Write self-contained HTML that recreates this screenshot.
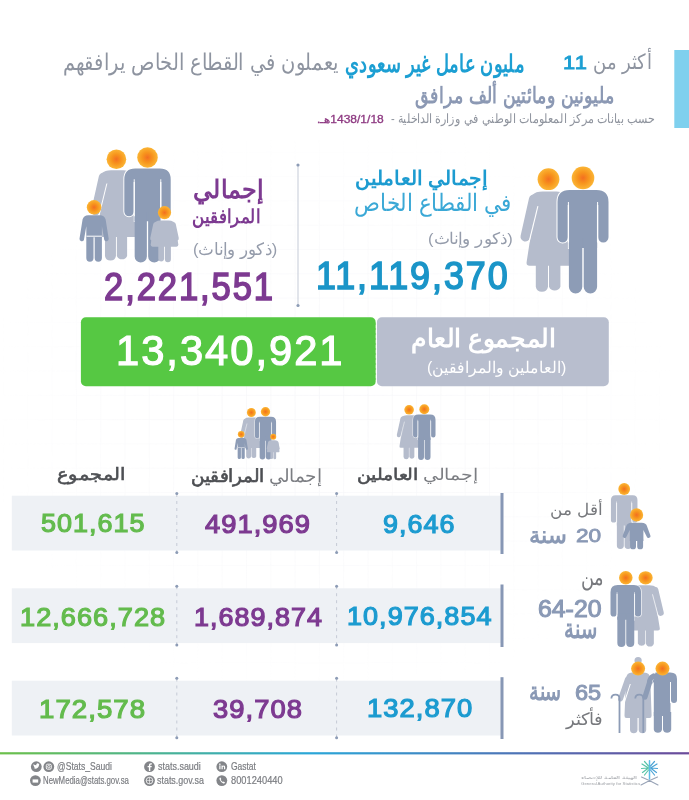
<!DOCTYPE html>
<html lang="ar"><head><meta charset="utf-8"><title>Infographic</title>
<style>
html,body{margin:0;padding:0;background:#fff;}
body{width:689px;height:800px;position:relative;overflow:hidden;font-family:"Liberation Sans",sans-serif;}
.bg{position:absolute;left:0;top:0;}
.t{position:absolute;white-space:nowrap;line-height:1;transform-origin:0 0;unicode-bidi:isolate;}
.lt{font-weight:400;color:#7b7d82;}
.md{-webkit-text-stroke:0.6px currentColor;}
</style></head>
<body>
<svg class="bg" width="689" height="800" viewBox="0 0 689 800">
<defs>
  <radialGradient id="hd" cx="0.5" cy="0.5" r="0.5">
    <stop offset="0" stop-color="#f36f21"/>
    <stop offset="0.5" stop-color="#f7951d"/>
    <stop offset="1" stop-color="#fbb535"/>
  </radialGradient>
  <linearGradient id="fl" x1="0" y1="0" x2="1" y2="0">
    <stop offset="0" stop-color="#6cc04a"/>
    <stop offset="0.45" stop-color="#2aa6d8"/>
    <stop offset="1" stop-color="#6b4a9a"/>
  </linearGradient>
  <pattern id="grid" width="24.3" height="24.3" patternUnits="userSpaceOnUse" x="3" y="6">
    <path d="M0 0H24.3M0 0V24.3" stroke="#f1f2f6" stroke-width="1" fill="none"/>
  </pattern>
  <radialGradient id="gridfade" cx="0.48" cy="0.45" r="0.5">
    <stop offset="0" stop-color="#fff" stop-opacity="1"/>
    <stop offset="0.6" stop-color="#fff" stop-opacity="0.5"/>
    <stop offset="1" stop-color="#fff" stop-opacity="0"/>
  </radialGradient>
  <mask id="gm"><rect x="0" y="140" width="689" height="600" fill="url(#gridfade)"/></mask>
  <!-- man: head center at 0,0 -->
  <g id="man">
    <path fill="#8d9cb6" stroke="#fff" stroke-width="2" paint-order="stroke" d="M-13.5,12.1H13.5Q25.5,12.1 25.5,24.1V59.4A5.2,5.2 0 0 1 15.1,59.4V24H14.1V70H-14.1V24H-15.1V59.4A5.2,5.2 0 0 1 -25.5,59.4V24.1Q-25.5,12.1 -13.5,12.1Z"/>
    <path fill="#8d9cb6" d="M-14.1,60V108.8A6.7,6.7 0 0 0 -0.7,108.8V60Z M0.7,60V108.8A6.7,6.7 0 0 0 14.1,108.8V60Z"/>
    <path stroke="#fff" stroke-width="1.3" d="M-14.6,27V64.6M14.6,27V64.6" fill="none"/>
    <circle r="11.3" fill="url(#hd)"/>
  </g>
  <g id="woman">
    <path fill="#b5bccc" d="M-6,12.3H8Q17,12.3 18.5,22L23.5,83Q23.8,86.5 20.5,86.5H-19Q-22.3,86.5 -21.9,83L-13.5,28L-19.8,26Q-19.5,12.3 -6,12.3Z"/>
    <path stroke="#b5bccc" stroke-width="9.6" stroke-linecap="round" d="M-14.8,20L-23.2,57.6"/>
    <path stroke="#fff" stroke-width="1.1" d="M-10.6,27L-19.4,63" fill="none"/>
    <path fill="#b5bccc" d="M-12.7,80V107.5A6.2,6.2 0 0 0 -0.5,107.5V80Z M0.5,80V107.5A6.2,6.2 0 0 0 11.9,107.5V80Z"/>
    <circle r="10.9" fill="url(#hd)"/>
  </g>
  <g id="boy">
    <path fill="#8d9cb6" d="M-6,7.9H6Q10,7.9 11.5,12L14.6,31.5A2.3,2.3 0 0 1 10.2,32.6L7.8,19V30H-7.8V19L-10.2,32.6A2.3,2.3 0 0 1 -14.6,31.5L-11.5,12Q-10,7.9 -6,7.9Z"/>
    <path fill="#8d9cb6" d="M-7.8,28.5V50.8A3.6,3.6 0 0 0 -0.6,50.8V28.5Z M0.6,28.5V50.8A3.6,3.6 0 0 0 7.8,50.8V28.5Z"/>
    <path stroke="#fff" stroke-width="1" d="M-7.8,28.9H7.8" fill="none"/>
    <circle r="7.3" fill="url(#hd)"/>
  </g>
  <g id="girl">
    <path fill="#b5bccc" d="M-4,7.9H4Q10,7.9 11,13L13.8,32Q14,34.1 12,34.1H-12Q-14,34.1 -13.8,32L-11,13Q-10,7.9 -4,7.9Z"/>
    <path stroke="#b5bccc" stroke-width="4.6" stroke-linecap="round" d="M-9,12L-12,26M9,12L12,26"/>
    <path fill="#b5bccc" d="M-6.2,30V46.6A3,3 0 0 0 -0.4,46.6V30Z M0.4,30V46.6A3,3 0 0 0 6.4,46.6V30Z"/>
    <circle r="6.6" fill="url(#hd)"/>
  </g>
  <g id="workers">
    <use href="#woman" x="-34.5" y="1.3"/>
    <use href="#man"/>
  </g>
  <g id="family">
    <use href="#woman" transform="translate(-31.1,1.7) scale(0.9)"/>
    <use href="#man" transform="scale(0.91)"/>
    <use href="#boy" transform="translate(-53.4,49.8)"/>
    <use href="#girl" transform="translate(17,55.1)"/>
  </g>
</defs>
<rect width="689" height="800" fill="#fff"/>
<rect x="0" y="140" width="689" height="600" fill="url(#grid)" mask="url(#gm)"/>
<!-- right accent bar -->
<rect x="674.3" y="50" width="14.7" height="78" fill="#7fd0ee"/>
<!-- icons top -->
<use href="#workers" transform="translate(583,177.9)"/>
<use href="#family" transform="translate(147.5,157.5)"/>
<!-- dotted vertical divider -->
<path d="M298,165V305" stroke="#c5cbd7" stroke-width="1"/>
<circle cx="298" cy="165" r="1.6" fill="#8d9cb6"/>
<circle cx="298" cy="305.5" r="1.6" fill="#8d9cb6"/>
<!-- totals boxes -->
<rect x="80.9" y="317.2" width="294.9" height="69.1" rx="5" fill="#56c843"/>
<rect x="376.9" y="317.2" width="231.9" height="69.1" rx="5" fill="#b8bece"/>
<path d="M376.3,320V384" stroke="#fff" stroke-width="1" stroke-dasharray="3,2"/>
<!-- header icons -->
<use href="#workers" transform="translate(424.3,409.2) scale(0.44)"/>
<use href="#family" transform="translate(265.5,411.7) scale(0.455)"/>
<!-- rows -->
<g fill="#eef1f5">
  <rect x="11.8" y="495.7" width="489.2" height="54.8"/>
  <rect x="11.8" y="588.3" width="489.2" height="54.8"/>
  <rect x="11.8" y="680.7" width="489.2" height="54.8"/>
</g>
<g fill="#8797b5">
  <rect x="500.5" y="493" width="3" height="61"/>
  <rect x="500.5" y="584.5" width="3" height="62.5"/>
  <rect x="500.5" y="677.2" width="3" height="61.8"/>
</g>
<g stroke="#c5cad6" stroke-width="1" stroke-dasharray="3,4">
  <path d="M176.8,494V552.6M336.6,494V552.6"/>
  <path d="M176.8,586.2V645M336.6,586.2V645"/>
  <path d="M176.8,678.5V737.5M336.6,678.5V737.5"/>
</g>
<g fill="#8d9cb6">
  <circle cx="176.8" cy="493.6" r="1.5"/><circle cx="176.8" cy="552.6" r="1.5"/>
  <circle cx="336.6" cy="493.6" r="1.5"/><circle cx="336.6" cy="552.6" r="1.5"/>
  <circle cx="176.8" cy="586.2" r="1.5"/><circle cx="176.8" cy="645" r="1.5"/>
  <circle cx="336.6" cy="586.2" r="1.5"/><circle cx="336.6" cy="645" r="1.5"/>
  <circle cx="176.8" cy="678.2" r="1.5"/><circle cx="176.8" cy="737.8" r="1.5"/>
  <circle cx="336.6" cy="678.2" r="1.5"/><circle cx="336.6" cy="737.8" r="1.5"/>
</g>
<!-- row icons -->
<g transform="translate(624.2,489) scale(0.52)">
  <g>
    <path fill="#b5bccc" d="M-16.5,12.1H16.5Q25.5,12.1 25.5,21.1V59.4A5.2,5.2 0 0 1 15.1,59.4V24H14.1V70H-14.1V24H-15.1V59.4A5.2,5.2 0 0 1 -25.5,59.4V21.1Q-25.5,12.1 -16.5,12.1Z"/>
    <path fill="#b5bccc" d="M-14.1,60V108.8A6.7,6.7 0 0 0 -0.7,108.8V60Z M0.7,60V108.8A6.7,6.7 0 0 0 14.1,108.8V60Z"/>
    <path stroke="#fff" stroke-width="1.3" d="M-14.6,27V64.6M14.6,27V64.6" fill="none"/>
    <circle r="11.3" fill="url(#hd)"/>
  </g>
</g>
<g transform="translate(636.6,514.9)">
  <path fill="#8d9cb6" d="M-5,7.9H5Q9.5,7.9 10.5,11.5L13.8,20.5A1.9,1.9 0 0 1 10.2,21.8L6.8,15V26H-6.8V15L-10.2,21.8A1.9,1.9 0 0 1 -13.8,20.5L-10.5,11.5Q-9.5,7.9 -5,7.9Z"/>
  <path fill="#8d9cb6" d="M-6.5,24V31.5A2.95,2.95 0 0 0 -0.6,31.5V24Z M0.6,24V31.5A2.95,2.95 0 0 0 6.5,31.5V24Z"/>
  <circle r="6.6" fill="url(#hd)"/>
</g>
<use href="#woman" transform="translate(645.6,577.8) scale(-0.65,0.61)"/>
<use href="#man" transform="translate(625.8,577.8) scale(-0.6,0.6)"/>
<!-- elderly -->
<g fill="#b5bccc">
  <circle cx="638.1" cy="660.5" r="3.6"/>
  <path d="M632,672.6H644Q650,672.6 650.3,679L651.6,715.5Q651.7,718 649.5,718H626.5Q624.3,718 624.5,715.5L626,679Q626.5,672.6 632,672.6Z"/>
  <path d="M630,716V730A3.8,3.8 0 0 0 637.5,730V716Z M638.7,716V730A3.8,3.8 0 0 0 646.2,730V716Z"/>
  <path d="M627.5,679L620.5,699" stroke="#b5bccc" stroke-width="5" stroke-linecap="round"/>
</g>
<path d="M630.3,684L624.5,702" stroke="#fff" stroke-width="1"/>
<circle cx="638.1" cy="668.6" r="7" fill="url(#hd)"/>
<path d="M619.5,733V698.8Q619.5,694.7 615.5,694.7Q611.4,694.7 611.4,698.5" stroke="#8d9cb6" stroke-width="1.8" fill="none"/>
<g fill="#8d9cb6">
  <path d="M655.5,672.6H670.5Q677,672.6 677,679V700A3,3 0 0 1 671,700V682H670.5V716H653.8V682L652,684Z"/>
  <path d="M653.8,712V729.5A4.2,4.2 0 0 0 662,729.5V712Z M663,712V729.5A4.2,4.2 0 0 0 671.2,729.5V712Z"/>
  <path d="M653.5,676Q649.6,678 649.4,683L645,697" stroke="#8d9cb6" stroke-width="5.2" stroke-linecap="round" fill="none"/>
</g>
<path d="M670.5,682V703" stroke="#fff" stroke-width="1"/>
<circle cx="662.5" cy="668.6" r="7" fill="url(#hd)"/>
<path d="M643.3,733V698.8Q643.3,694.7 639.3,694.7Q635.3,694.7 635.3,698.5" stroke="#8d9cb6" stroke-width="1.8" fill="none"/>
<!-- footer line -->
<rect x="0" y="752.2" width="689" height="2.2" fill="url(#fl)"/>
<!-- footer icons -->
<g fill="#838589">
  <circle cx="36.3" cy="766.7" r="5.4"/>
  <circle cx="48.8" cy="766.7" r="5.4"/>
  <circle cx="35.4" cy="780.6" r="5.4"/>
  <circle cx="149.5" cy="766.7" r="5.4"/>
  <circle cx="149.5" cy="780.6" r="5.4"/>
  <circle cx="221.8" cy="766.7" r="5.4"/>
  <circle cx="221.8" cy="780.6" r="5.4"/>
</g>
<g fill="#fff">
  <path d="M33.5,768.5Q36,769.5 38,767.5Q39.3,766 39,764.5L39.8,763.8L39,764Q38,763 37,763.5Q36,764 36.3,765.3Q34.5,765.2 33.5,764Q33,765.5 34.3,766.5L33.8,766.4Q34,767.6 35.2,767.9Q34.5,768.4 33.5,768.5Z"/>
  <rect x="46.3" y="764.2" width="5" height="5" rx="1.3" fill="none" stroke="#fff" stroke-width="0.9"/>
  <circle cx="48.8" cy="766.7" r="1.2" fill="none" stroke="#fff" stroke-width="0.8"/>
  <path d="M32.6,779.4H38.2V782.6H32.6Z"/>
  <path d="M150.3,770.9V767.2H151.6L151.8,765.9H150.3V765.1Q150.3,764.5 151,764.5H151.9V763.3Q151.3,763.2 150.6,763.2Q148.9,763.2 148.9,765V765.9H147.6V767.2H148.9V770.9Z"/>
  <circle cx="149.5" cy="780.6" r="3.3" fill="none" stroke="#fff" stroke-width="0.8"/>
  <path d="M146.2,780.6H152.8M149.5,777.3V783.9" stroke="#fff" stroke-width="0.6"/>
  <path d="M219.3,765.5H220.5V769.3H219.3Z M219.9,763.6A0.7,0.7 0 1 1 219.89,763.6Z M221.5,765.5H222.6V766.1Q223,765.4 224,765.4Q225.2,765.4 225.2,767V769.3H224V767.2Q224,766.4 223.4,766.4Q222.7,766.4 222.7,767.2V769.3H221.5Z"/>
  <path d="M219.8,777.8Q219.2,778.4 219.6,779.6Q220.6,782.4 223.3,783.4Q224.3,783.7 224.8,783.1L225,782.5L223.6,781.6L222.9,782.1Q221.3,781.3 220.8,779.8L221.3,779L220.4,777.6Z"/>
</g>
<!-- logo -->
<g stroke-width="1.2" stroke-linecap="round" fill="none">
  <path d="M649.5,760.8V779" stroke="#5bbde6" stroke-width="1.5"/>
  <path d="M648.5,768L642,764M648.5,768L641.5,768.5M648.5,768L642.5,772.5M648.5,766L644.5,761.5M648.5,770L644.5,775" stroke="#58c4a8"/>
  <path d="M650.5,768L657,764M650.5,768L657.5,768.5M650.5,768L656.5,772.5M650.5,766L654.5,761.5M650.5,770L654.5,775" stroke="#4aa3d6"/>
  <path d="M641.5,777Q650,780.5 658,785M657.5,777Q649,780.5 641,785" stroke="#98a3b6" stroke-width="1.1"/>
</g>
</svg>

<div class="t" id="t1a" style="font-size:20px;font-weight:400;color:#8e94a0;direction:rtl;left:593.19px;top:51.02px;transform:matrix(0.9143,0,0,1.0707,0,0);">أكثر من</div>
<div class="t" id="t1b" style="font-size:20px;font-weight:700;color:#1c9fd3;direction:rtl;left:345.00px;top:50.79px;transform:matrix(0.9047,0,0,1.2143,0,0);">مليون عامل غير سعودي</div>
<div class="t" id="t1n" style="font-size:20px;font-weight:400;color:#1c9fd3;direction:ltr;letter-spacing:1px;-webkit-text-stroke:0.9px currentColor;left:562.50px;top:52.68px;transform:matrix(1.0952,0,0,0.9600,0,0);">11</div>
<div class="t" id="t1c" style="font-size:20px;font-weight:400;color:#8e94a0;direction:rtl;left:63.03px;top:50.89px;transform:matrix(0.9684,0,0,1.1467,0,0);">يعملون في القطاع الخاص يرافقهم</div>
<div class="t" id="t2" style="font-size:20px;font-weight:700;color:#8c99b4;direction:rtl;left:414.92px;top:83.96px;transform:matrix(0.8842,0,0,1.1205,0,0);">مليونين ومائتين ألف مرافق</div>
<div class="t" id="t3a" style="font-size:12px;font-weight:400;color:#8f949e;direction:rtl;left:390.60px;top:112.09px;transform:matrix(0.9302,0,0,1.0890,0,0);">حسب بيانات مركز المعلومات الوطني في وزارة الداخلية -</div>
<div class="t" id="t3b" style="font-size:12px;font-weight:400;color:#8e3a82;direction:rtl;-webkit-text-stroke:0.35px currentColor;left:317.00px;top:115.20px;transform:matrix(1.0000,0,0,0.8400,0,0);">1438/1/18هـ.</div>
<div class="t" id="w1" style="font-size:22px;font-weight:700;color:#1c9bd0;direction:rtl;left:355.49px;top:169.30px;transform:matrix(0.9149,0,0,0.9043,0,0);">إجمالي العاملين</div>
<div class="t" id="w2" style="font-size:22px;font-weight:400;color:#3aa8d6;direction:rtl;left:354.24px;top:191.87px;transform:matrix(0.9621,0,0,1.0753,0,0);">في القطاع الخاص</div>
<div class="t" id="w3" style="font-size:16px;font-weight:400;color:#959cab;direction:rtl;left:427.77px;top:231.10px;transform:matrix(1.0325,0,0,0.9706,0,0);">(ذكور وإناث)</div>
<div class="t" id="w4" style="font-size:37px;font-weight:400;color:#1b95c8;direction:rtl;letter-spacing:2px;-webkit-text-stroke:1.5px currentColor;left:316.06px;top:257.49px;transform:matrix(0.9693,0,0,1.0423,0,0);">11,119,370</div>
<div class="t" id="f1" style="font-size:26px;font-weight:700;color:#7d3a91;direction:rtl;left:193.07px;top:177.45px;transform:matrix(0.9284,0,0,0.9769,0,0);">إجمالي</div>
<div class="t" id="f2" style="font-size:22px;font-weight:700;color:#7d3a91;direction:rtl;left:192.24px;top:207.13px;transform:matrix(0.7587,0,0,0.8696,0,0);">المرافقين</div>
<div class="t" id="f3" style="font-size:16px;font-weight:400;color:#959cab;direction:rtl;left:193.17px;top:240.80px;transform:matrix(1.0263,0,0,1.0412,0,0);">(ذكور وإناث)</div>
<div class="t" id="f4" style="font-size:37px;font-weight:400;color:#7d3a91;direction:rtl;letter-spacing:2px;-webkit-text-stroke:1.5px currentColor;left:103.96px;top:267.87px;transform:matrix(0.9365,0,0,1.0269,0,0);">2,221,551</div>
<div class="t" id="g1" style="font-size:42px;font-weight:400;color:#ffffff;direction:rtl;letter-spacing:2px;-webkit-text-stroke:1.2px currentColor;left:116.11px;top:328.97px;transform:matrix(0.9928,0,0,1.0267,0,0);">13,340,921</div>
<div class="t" id="g2" style="font-size:24px;font-weight:700;color:#ffffff;direction:rtl;left:411.15px;top:326.26px;transform:matrix(1.0459,0,0,1.0440,0,0);">المجموع العام</div>
<div class="t" id="g3" style="font-size:16px;font-weight:400;color:#ffffff;direction:rtl;left:426.61px;top:359.62px;transform:matrix(0.9949,0,0,1.0165,0,0);">(العاملين والمرافقين)</div>
<div class="t" id="h1" style="font-size:17px;font-weight:400;color:#4d4f53;direction:rtl;left:356.71px;top:467.40px;transform:matrix(1.0936,0,0,0.9263,0,0);"><span class="lt">إجمالي </span><span class="md">العاملين</span></div>
<div class="t" id="h2" style="font-size:17px;font-weight:400;color:#4d4f53;direction:rtl;left:190.54px;top:467.00px;transform:matrix(1.0623,0,0,1.0368,0,0);"><span class="lt">إجمالي </span><span class="md">المرافقين</span></div>
<div class="t" id="h3" style="font-size:17px;font-weight:400;color:#4d4f53;direction:rtl;-webkit-text-stroke:0.6px currentColor;left:57.20px;top:465.50px;transform:matrix(1.1424,0,0,1.0053,0,0);">المجموع</div>
<div class="t" id="r1a" style="font-size:26px;font-weight:400;color:#1c9bd0;direction:rtl;letter-spacing:1px;-webkit-text-stroke:1.2px currentColor;left:383.40px;top:511.33px;transform:matrix(1.0343,0,0,0.9895,0,0);">9,646</div>
<div class="t" id="r1b" style="font-size:26px;font-weight:400;color:#7d3a91;direction:rtl;letter-spacing:1px;-webkit-text-stroke:1.2px currentColor;left:205.30px;top:510.98px;transform:matrix(1.0495,0,0,1.0053,0,0);">491,969</div>
<div class="t" id="r1c" style="font-size:26px;font-weight:400;color:#63bb4d;direction:rtl;letter-spacing:1px;-webkit-text-stroke:1.2px currentColor;left:40.50px;top:511.13px;transform:matrix(1.0361,0,0,0.9579,0,0);">501,615</div>
<div class="t" id="r2a" style="font-size:26px;font-weight:400;color:#1c9bd0;direction:rtl;letter-spacing:1px;-webkit-text-stroke:1.2px currentColor;left:346.96px;top:603.25px;transform:matrix(1.0385,0,0,1.0158,0,0);">10,976,854</div>
<div class="t" id="r2b" style="font-size:26px;font-weight:400;color:#7d3a91;direction:rtl;letter-spacing:1px;-webkit-text-stroke:1.2px currentColor;left:193.77px;top:603.60px;transform:matrix(1.0342,0,0,1.0000,0,0);">1,689,874</div>
<div class="t" id="r2c" style="font-size:26px;font-weight:400;color:#63bb4d;direction:rtl;letter-spacing:1px;-webkit-text-stroke:1.2px currentColor;left:19.86px;top:603.63px;transform:matrix(1.0433,0,0,0.9895,0,0);">12,666,728</div>
<div class="t" id="r3a" style="font-size:26px;font-weight:400;color:#1c9bd0;direction:rtl;letter-spacing:1px;-webkit-text-stroke:1.2px currentColor;left:366.65px;top:695.35px;transform:matrix(1.0531,0,0,1.0158,0,0);">132,870</div>
<div class="t" id="r3b" style="font-size:26px;font-weight:400;color:#7d3a91;direction:rtl;letter-spacing:1px;-webkit-text-stroke:1.2px currentColor;left:213.10px;top:696.00px;transform:matrix(1.0512,0,0,1.0000,0,0);">39,708</div>
<div class="t" id="r3c" style="font-size:26px;font-weight:400;color:#63bb4d;direction:rtl;letter-spacing:1px;-webkit-text-stroke:1.2px currentColor;left:39.44px;top:696.00px;transform:matrix(1.0615,0,0,1.0000,0,0);">172,578</div>
<div class="t" id="l1a" style="font-size:18px;font-weight:400;color:#77797d;direction:rtl;left:549.97px;top:501.96px;transform:matrix(0.9309,0,0,0.8870,0,0);">أقل من</div>
<div class="t" id="l1b" style="font-size:20px;font-weight:400;color:#8a99b5;direction:ltr;-webkit-text-stroke:0.9px currentColor;left:575.60px;top:526.18px;transform:matrix(1.1318,0,0,0.9600,0,0);">20</div>
<div class="t" id="l1c" style="font-size:20px;font-weight:700;color:#8a99b5;direction:rtl;left:529.47px;top:522.55px;transform:matrix(1.1324,0,0,1.1583,0,0);">سنة</div>
<div class="t" id="l2a" style="font-size:16px;font-weight:400;color:#77797d;direction:rtl;left:580.58px;top:566.34px;transform:matrix(1.1167,0,0,1.4444,0,0);">من</div>
<div class="t" id="l2b" style="font-size:20px;font-weight:400;color:#8a99b5;direction:rtl;-webkit-text-stroke:0.9px currentColor;left:538.10px;top:596.68px;transform:matrix(1.2412,0,0,1.1600,0,0);">64-20</div>
<div class="t" id="l2c" style="font-size:20px;font-weight:700;color:#8a99b5;direction:rtl;left:564.42px;top:615.25px;transform:matrix(0.9838,0,0,1.3583,0,0);">سنة</div>
<div class="t" id="l3a" style="font-size:20px;font-weight:400;color:#8a99b5;direction:ltr;-webkit-text-stroke:0.9px currentColor;left:575.00px;top:682.43px;transform:matrix(1.1773,0,0,1.0867,0,0);">65</div>
<div class="t" id="l3c" style="font-size:20px;font-weight:700;color:#8a99b5;direction:rtl;left:529.24px;top:678.10px;transform:matrix(0.9595,0,0,1.3000,0,0);">سنة</div>
<div class="t" id="l3b" style="font-size:18px;font-weight:400;color:#77797d;direction:rtl;left:566.07px;top:710.97px;transform:matrix(0.9737,0,0,0.9167,0,0);">فأكثر</div>
<div class="t" id="ft1" style="font-size:10.5px;font-weight:400;color:#7a7c80;direction:ltr;-webkit-text-stroke:0.2px currentColor;left:57.20px;top:760.80px;transform:matrix(0.8159,0,0,1.0000,0,0);">@Stats_Saudi</div>
<div class="t" id="ft2" style="font-size:10.5px;font-weight:400;color:#7a7c80;direction:ltr;-webkit-text-stroke:0.2px currentColor;left:43.30px;top:774.70px;transform:matrix(0.7438,0,0,1.0000,0,0);">NewMedia@stats.gov.sa</div>
<div class="t" id="ft3" style="font-size:10.5px;font-weight:400;color:#7a7c80;direction:ltr;-webkit-text-stroke:0.2px currentColor;left:157.90px;top:760.80px;transform:matrix(0.8528,0,0,1.0000,0,0);">stats.saudi</div>
<div class="t" id="ft4" style="font-size:10.5px;font-weight:400;color:#7a7c80;direction:ltr;-webkit-text-stroke:0.2px currentColor;left:157.00px;top:774.70px;transform:matrix(0.8492,0,0,1.0000,0,0);">stats.gov.sa</div>
<div class="t" id="ft5" style="font-size:10.5px;font-weight:400;color:#7a7c80;direction:ltr;-webkit-text-stroke:0.2px currentColor;left:231.00px;top:760.80px;transform:matrix(0.8061,0,0,1.0000,0,0);">Gastat</div>
<div class="t" id="ft6" style="font-size:10.5px;font-weight:400;color:#7a7c80;direction:ltr;-webkit-text-stroke:0.2px currentColor;left:231.00px;top:774.70px;transform:matrix(0.8850,0,0,1.0000,0,0);">8001240440</div>
<div class="t" id="lg1" style="font-size:6px;font-weight:400;color:#9ea1a6;direction:rtl;left:581.00px;top:775.80px;transform:matrix(1.0769,0,0,0.6000,0,0);">الهيئة العامة للإحصاء</div>
<div class="t" id="lg2" style="font-size:4px;font-weight:400;color:#9ea1a6;direction:ltr;left:581.00px;top:781.90px;transform:matrix(1.0980,0,0,0.9000,0,0);">General Authority for Statistics</div>
</body></html>
